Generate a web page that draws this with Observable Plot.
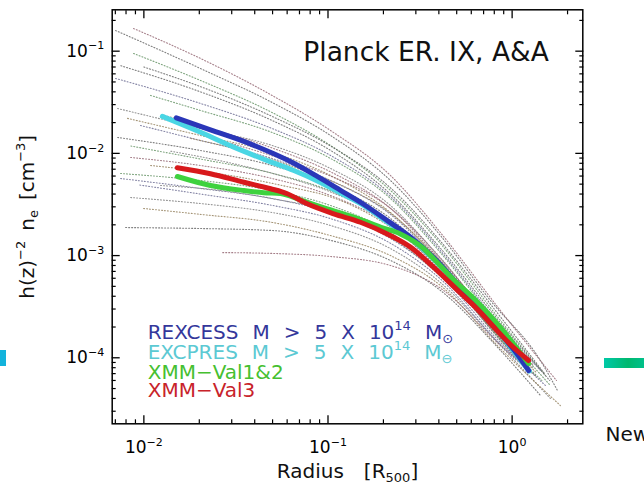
<!DOCTYPE html>
<html><head><meta charset="utf-8">
<script src="https://cdn.jsdelivr.net/npm/d3@7"></script>
<script src="https://cdn.jsdelivr.net/npm/@observablehq/plot@0.6"></script>
<style>
html,body{margin:0;padding:0;background:#fff;}
#wrap{position:relative;width:644px;height:485px;overflow:hidden;background:#fff;}
#wrap svg{position:absolute;left:0;top:0;}
.bar-left{position:absolute;left:0;top:350px;width:6px;height:16px;background:#13b3dc;}
.bar-right{position:absolute;left:604px;top:358px;width:40px;height:10px;background:linear-gradient(90deg,#00c9a7,#00b86f 60%,#00c08a);}
</style></head><body><div id="wrap"><div class="bar-left"></div><div class="bar-right"></div></div>
<script>
// ---- axes ----
const xDomain = [0.00673, 2.42];
const yDomain = [2.26e-5, 0.254];
const majorX = [0.01, 0.1, 1];
const minorX = [0.007,0.008,0.009,0.02,0.03,0.04,0.05,0.06,0.07,0.08,0.09,0.2,0.3,0.4,0.5,0.6,0.7,0.8,0.9,2];
const majorY = [1e-4, 1e-3, 1e-2, 1e-1];
const minorY = [3e-5,4e-5,5e-5,6e-5,7e-5,8e-5,9e-5,2e-4,3e-4,4e-4,5e-4,6e-4,7e-4,8e-4,9e-4,
  2e-3,3e-3,4e-3,5e-3,6e-3,7e-3,8e-3,9e-3,0.02,0.03,0.04,0.05,0.06,0.07,0.08,0.09,0.2];

// ---- thick mean profiles ----
const rexcessR  = [0.0150,0.0230,0.0349,0.0508,0.0652,0.0874,0.117,0.156,0.210,0.281,0.392,0.524,0.701,0.900,1.064,1.229];
const rexcessNe = [0.0223,0.0170,0.0131,0.0099,0.0080,0.00595,0.00435,0.00318,0.00220,0.00151,0.00088,0.000491,0.000290,0.000159,0.000109,0.0000751];
const excpresR  = [0.0126,0.0203,0.0308,0.0468,0.0652,0.087,0.117,0.156,0.21,0.28,0.39,0.52,0.70,0.90,1.06,1.24];
const excpresNe = [0.0230,0.0161,0.0115,0.0085,0.0068,0.0054,0.0041,0.0031,0.00213,0.00148,0.00086,0.00049,0.00029,0.000157,0.000106,0.000074];
const val12R    = [0.0152,0.0230,0.0349,0.0448,0.0552,0.0709,0.0991,0.138,0.1925,0.247,0.331,0.374,0.505,0.572,0.864,1.229];
const val12Ne   = [0.00594,0.00485,0.00433,0.00412,0.00405,0.00350,0.00287,0.00238,0.00190,0.00163,0.00117,0.000937,0.000533,0.000436,0.000198,0.0000877];
const val3R     = [0.0152,0.0230,0.0349,0.0488,0.0601,0.0771,0.1075,0.150,0.2096,0.2805,0.374,0.524,0.646,0.795,0.978,1.229];
const val3Ne    = [0.00723,0.00631,0.00522,0.00451,0.00403,0.00321,0.00256,0.00212,0.00163,0.00121,0.00077,0.00043,0.000300,0.000200,0.000135,0.0000941];

// ---- individual cluster profiles (dotted) [r, ne] ----
const profiles = [
  [[0.00702,0.1594],[0.0203,0.0677],[0.0497,0.0315],[0.1032,0.01497],[0.2184,0.00543],[0.408,0.00157],[0.762,0.000364],[1.424,0.0000941],[1.762,0.0000479]],
  [[0.00879,0.1667],[0.0203,0.0849],[0.0497,0.0369],[0.1032,0.01675],[0.2184,0.00608],[0.408,0.00168],[0.864,0.000290],[1.740,0.0000600]],
  [[0.00879,0.0950],[0.0203,0.0517],[0.0497,0.0251],[0.1032,0.01195],[0.2184,0.00434],[0.408,0.00131],[0.864,0.000232],[1.516,0.0000671]],
  [[0.00702,0.0541],[0.0203,0.0308],[0.0497,0.01752],[0.1032,0.00954],[0.2184,0.00379],[0.408,0.00112],[0.864,0.000207],[1.424,0.0000751]],
  [[0.00720,0.0275],[0.0203,0.01752],[0.0497,0.01195],[0.1032,0.00712],[0.2184,0.00309],[0.408,0.000937],[0.864,0.000185],[1.257,0.0000899]],
  [[0.00815,0.0220],[0.0203,0.01497],[0.0497,0.01021],[0.1032,0.00608],[0.2184,0.00264],[0.408,0.000856],[0.864,0.000165],[1.257,0.0000786]],
  [[0.00720,0.01431],[0.0203,0.01067],[0.0497,0.00761],[0.1032,0.00485],[0.2184,0.00231],[0.408,0.000800],[0.864,0.000154],[1.338,0.0000671]],
  [[0.00847,0.00912],[0.0203,0.00761],[0.0497,0.00568],[0.1032,0.00387],[0.2184,0.00197],[0.408,0.000715],[0.864,0.000148],[1.257,0.0000718]],
  [[0.00747,0.00636],[0.0203,0.00543],[0.0497,0.00434],[0.1032,0.00309],[0.2184,0.00168],[0.408,0.000683],[0.864,0.000154],[1.181,0.0000786]],
  [[0.00747,0.00568],[0.0203,0.00454],[0.0497,0.00362],[0.1032,0.00264],[0.2184,0.00147],[0.408,0.000639],[0.864,0.000141],[1.516,0.0000536]],
  [[0.00847,0.00370],[0.0203,0.00323],[0.0497,0.00264],[0.1032,0.00197],[0.2184,0.00117],[0.408,0.000545],[0.864,0.000132],[1.614,0.0000400]],
  [[0.00996,0.00289],[0.0203,0.00253],[0.0497,0.00211],[0.1032,0.00157],[0.2184,0.00100],[0.408,0.000510],[0.864,0.000123],[1.829,0.0000341]],
  [[0.00796,0.00188],[0.0203,0.00184],[0.0497,0.00176],[0.1032,0.00141],[0.2184,0.000896],[0.408,0.000456],[0.864,0.000118],[1.424,0.0000428]],
  [[0.0268,0.00107],[0.0497,0.00105],[0.1032,0.00098],[0.2184,0.000800],[0.408,0.00048],[0.864,0.000132],[1.257,0.0000718]],
  [[0.01087,0.0369],[0.0203,0.0263],[0.0497,0.01602],[0.1032,0.00892],[0.2184,0.00362],[0.408,0.00107],[0.979,0.000148],[1.614,0.0000536]],
  [[0.00959,0.01875],[0.0203,0.01337],[0.0497,0.00892],[0.1032,0.00543],[0.2184,0.00253],[0.408,0.000837],[0.920,0.000148]],
  [[0.01232,0.00485],[0.0261,0.00434],[0.0563,0.00346],[0.1169,0.00264],[0.2324,0.00141],[0.4344,0.000571],[1.109,0.000105]],
  [[0.01087,0.00761],[0.0230,0.00650],[0.0563,0.00485],[0.1169,0.00346],[0.2324,0.00176],[0.4344,0.000683],[1.042,0.000118]],
  [[0.0075,0.072],[0.0203,0.040],[0.0497,0.021],[0.1032,0.0107],[0.2184,0.0040],[0.408,0.00118],[0.864,0.00022],[1.6,0.00006]],
  [[0.0125,0.024],[0.0203,0.0185],[0.0497,0.0113],[0.1032,0.0066],[0.2184,0.0029],[0.408,0.00090],[0.95,0.00016],[1.3,0.000085]],
  [[0.0085,0.0118],[0.0203,0.0088],[0.0497,0.0064],[0.1032,0.0043],[0.2184,0.00215],[0.408,0.00076],[0.864,0.000150],[1.45,0.000060]],
  [[0.0095,0.0049],[0.0203,0.0040],[0.0497,0.0031],[0.1032,0.0023],[0.2184,0.00132],[0.408,0.00059],[0.864,0.000135],[1.25,0.000075]],
  [[0.0140,0.0105],[0.0300,0.0080],[0.0600,0.0058],[0.1032,0.0042],[0.2184,0.0021],[0.408,0.00074],[0.80,0.00018],[1.30,0.00008]],
  [[0.0180,0.0140],[0.0350,0.0105],[0.0700,0.0070],[0.130,0.0045],[0.2184,0.0026],[0.408,0.00088],[0.85,0.00017],[1.35,0.000072]],
  [[0.0100,0.0700],[0.0203,0.0450],[0.0497,0.0230],[0.1032,0.0118],[0.2184,0.0046],[0.408,0.00138],[0.80,0.00030],[1.50,0.000070]],
  [[0.0300,0.0125],[0.0600,0.0085],[0.1032,0.0060],[0.2184,0.0029],[0.408,0.00095],[0.864,0.000175],[1.2,0.00009]]
];
const profileColors = ["#5e5e5e","#8f5f6c","#5f8f5f","#66668f","#7a7a7a","#8f7a55"];

// ---- legend / labels ----
const sp = "\u2002\u2009";
const legendLabels = [
  "REXCESS" + sp + "M" + sp + ">" + sp + "5" + sp + "X" + sp + "10^{14}" + sp + "M_{\u2299}",
  "EXCPRES" + sp + "M" + sp + ">" + sp + "5" + sp + "X" + sp + "10^{14}" + sp + "M_{\u2296}",
  "XMM\u2212Val1&2",
  "XMM\u2212Val3"
];
const legendColors = ["#34379b","#5cc9d3","#46c030","#c8232a"];
const legendDy = [329, 349, 369, 387.5];
const seriesColors = {excpres:"#4ad6e4", rexcess:"#2a36b8", val12:"#3ed23e", val3:"#d8191c"};

const toRows = (r, ne) => r.map((v, i) => ({r: v, ne: ne[i]}));
const fmt = d => "10^{" + String(Math.round(Math.log10(d))).replace("-", "\u2212") + "}";

const chart = Plot.plot({
  width: 644, height: 485,
  marginLeft: 111.7, marginRight: 61.7, marginTop: 9.3, marginBottom: 61.7,
  x: {type: "log", domain: xDomain},
  y: {type: "log", domain: yDomain},
  style: {fontFamily: "DejaVu Sans", fontSize: "17px", color: "#000", background: "transparent"},
  marks: [
    ...profiles.map((p, i) => Plot.line(p, {x: d => d[0], y: d => d[1], stroke: profileColors[i % profileColors.length],
      strokeWidth: 1.1, strokeDasharray: "1,2", strokeOpacity: 0.8, curve: "monotone-x"})),
    Plot.line(toRows(excpresR, excpresNe), {x: "r", y: "ne", stroke: seriesColors.excpres, strokeWidth: 5, curve: "monotone-x", strokeLinecap: "round"}),
    Plot.line(toRows(rexcessR, rexcessNe), {x: "r", y: "ne", stroke: seriesColors.rexcess, strokeWidth: 5, curve: "monotone-x", strokeLinecap: "round"}),
    Plot.line(toRows(val12R, val12Ne), {x: "r", y: "ne", stroke: seriesColors.val12, strokeWidth: 5, curve: "monotone-x", strokeLinecap: "round"}),
    Plot.line(toRows(val3R, val3Ne), {x: "r", y: "ne", stroke: seriesColors.val3, strokeWidth: 5, curve: "monotone-x", strokeLinecap: "round"}),
    Plot.frame({stroke: "#000", strokeWidth: 1.5}),
    Plot.axisX(majorX, {anchor: "bottom", tickSize: -8, fill: "none", strokeWidth: 1.3}),
    Plot.axisX(minorX, {anchor: "bottom", tickSize: -4, fill: "none", strokeWidth: 1.2}),
    Plot.axisX(majorX, {anchor: "top", tickSize: -8, fill: "none", strokeWidth: 1.3}),
    Plot.axisX(minorX, {anchor: "top", tickSize: -4, fill: "none", strokeWidth: 1.2}),
    Plot.axisY(majorY, {anchor: "left", tickSize: -8, fill: "none", strokeWidth: 1.3}),
    Plot.axisY(minorY, {anchor: "left", tickSize: -4, fill: "none", strokeWidth: 1.2}),
    Plot.axisY(majorY, {anchor: "right", tickSize: -8, fill: "none", strokeWidth: 1.3}),
    Plot.axisY(minorY, {anchor: "right", tickSize: -4, fill: "none", strokeWidth: 1.2}),
    Plot.axisX(majorX, {anchor: "bottom", tickSize: 0, tickPadding: 17, tickFormat: fmt, fontSize: 17, label: null}),
    Plot.axisY(majorY, {anchor: "left", tickSize: 0, tickPadding: 8, tickFormat: fmt, fontSize: 17, label: null}),
    Plot.text(["Radius\u2003[R_{500}]"], {text: d => d, frameAnchor: "bottom", textAnchor: "middle", lineAnchor: "bottom", dy: 54, fontSize: 20, fill: "#111"}),
    Plot.text(["h(z)^{\u22122}\u2002n_{e}\u2002[cm^{\u22123}]"], {text: d => d, frameAnchor: "left", textAnchor: "middle", rotate: -90, lineAnchor: "bottom", dx: -78.7, fontSize: 20, fill: "#111"}),
    Plot.text(["Planck ER. IX, A&A"], {text: d => d, frameAnchor: "top-right", textAnchor: "end", lineAnchor: "bottom", dx: -34, dy: 50.7, fontSize: 26.5, fill: "#111"}),
    ...legendLabels.map((t, i) => Plot.text([t], {text: d => d, frameAnchor: "top-left", textAnchor: "start", lineAnchor: "bottom",
      dx: 35.5, dy: legendDy[i], fontSize: 20, fill: legendColors[i]})),
    Plot.text(["New"], {text: d => d, frameAnchor: "bottom-right", textAnchor: "start", lineAnchor: "bottom", dx: 22.7, dy: 16.7, fontSize: 20, fill: "#111"})
  ]
});
document.getElementById("wrap").appendChild(chart);

// turn ^{..} and _{..} into real super/subscript tspans
function richify(svg) {
  d3.select(svg).selectAll("text").each(function () {
    const s = this.textContent;
    if (!/[\^_]\{/.test(s)) return;
    const base = parseFloat(getComputedStyle(this).fontSize) || 17;
    this.textContent = "";
    const el = this;
    const add = (txt, size, dy) => {
      const t = document.createElementNS("http://www.w3.org/2000/svg", "tspan");
      if (size) t.setAttribute("font-size", size);
      if (dy) t.setAttribute("dy", dy);
      t.textContent = txt;
      el.appendChild(t);
    };
    const re = /([\^_])\{([^}]*)\}/g;
    let last = 0, m, shift = 0;
    while ((m = re.exec(s))) {
      if (m.index > last) { add(s.slice(last, m.index), null, shift ? -shift : null); shift = 0; }
      const off = m[1] === "^" ? -0.42 * base : 0.22 * base;
      add(m[2], 0.65 * base, off - shift);
      shift = off;
      last = re.lastIndex;
    }
    if (last < s.length) add(s.slice(last), null, shift ? -shift : null);
  });
}
richify(chart);
</script></body></html>
